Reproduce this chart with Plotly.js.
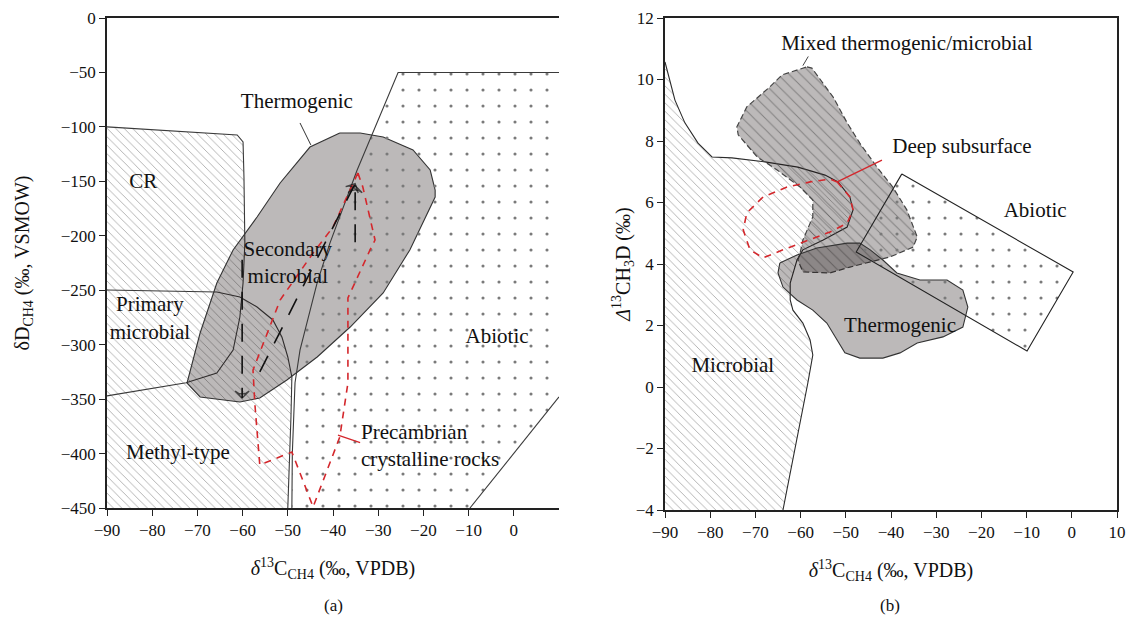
<!DOCTYPE html>
<html><head><meta charset="utf-8">
<script src="https://cdn.plot.ly/plotly-3.0.1.min.js"></script>
<style>html,body{margin:0;padding:0;background:#fff}</style>
</head><body><div id="chart" style="width:1129px;height:620px"></div>
<script>
// ---------- Panel (a): δD vs δ13C ----------
const aTicksX = [-90, -80, -70, -60, -50, -40, -30, -20, -10, 0];
const aTicksY = [0, -50, -100, -150, -200, -250, -300, -350, -400, -450];

// hatched microbial field (CR + primary microbial + methyl-type)
const aMicrobialX = [-90, -90, -61.2, -59.9, -59.7, -59.5, -59.9, -60.6, -56.8, -53.3, -51.3, -50, -49.1, -49.3, -49.7, -50];
const aMicrobialY = [-450, -100, -107.4, -113.9, -146, -206.6, -243.4, -256.2, -265.4, -277.3, -293, -311.3, -329.7, -366.4, -412.3, -450];
// CR boundary (continues down as methyl-type upper boundary)
const aCrLineX = [-90, -61.2, -59.9, -59.7, -59.5, -59.9, -60.6, -62.1, -65.7, -72.5, -90];
const aCrLineY = [-100, -107.4, -113.9, -146, -206.6, -243.4, -274.6, -305, -326, -335, -347];
// primary microbial boundary
const aPrimLineX = [-90, -65.7, -60.6, -56.8, -53.3, -51.3, -50, -49.1, -49.3, -49.7, -50];
const aPrimLineY = [-249.8, -251.6, -256.2, -265.4, -277.3, -293, -311.3, -329.7, -366.4, -412.3, -450];

// thermogenic field
const aThermoX = [-38.5, -34.0, -28.9, -22.3, -18.5, -17.4, -17.4, -20.8, -23.0, -28.9, -36.2, -43.5, -50.2, -56.2, -60.6, -69.4, -72.3, -69.4, -65.7, -62.1, -56.8, -51.7, -45.1, -38.5];
const aThermoY = [-105.6, -105.6, -109.3, -121.2, -139.6, -158, -164.4, -194.7, -213, -252.5, -283.8, -311.3, -332.4, -349, -352.6, -348, -335.2, -289.3, -243.4, -213, -182.8, -151.5, -118.5, -105.6];

// abiotic field
const aAbioticX = [-25.6, 10, 10, -9.7, -49.1, -49.0, -48.4, -47.3, -43.5, -40.7, -34.7, -25.6];
const aAbioticY = [-50, -50, -348, -450, -450, -400, -335, -305, -243, -207, -140, -50];
const aAbioticLineX = [-49.1, -49.0, -48.4, -47.3, -43.5, -40.7, -34.7, -25.6, 10, null, 10, -9.7];
const aAbioticLineY = [-450, -400, -335, -305, -243, -207, -140, -50, -50, null, -348, -450];

// Precambrian crystalline rocks (red dashed)
const aPrecX = [-34.5, -40, -44.4, -51.7, -57.7, -57.3, -56.2, -49.1, -44.4, -38.5, -36.7, -36.7, -31.8, -30.7, -33.4, -34.5];
const aPrecY = [-142.3, -192, -215.8, -259, -323.3, -353.6, -410.5, -398.6, -449, -384.8, -335.2, -257.1, -213, -203.9, -155.2, -142.3];

// secondary microbial arrows (black dashed)
const aArrow1X = [-60.1, -60.1], aArrow1Y = [-222, -349];
const aArrow2X = [-56.2, -35.1], aArrow2Y = [-325, -152];
const aArrow3X = [-35.1, -35.1], aArrow3Y = [-206, -154];

// leaders
const aThermoLeadX = [-47.3, -44.9], aThermoLeadY = [-96.4, -116.6];
const aPrecLeadX = [-38.9, -34.0], aPrecLeadY = [-383, -390];

// labels
const aLabelText = ['CR', 'Thermogenic', 'Secondary<br>microbial', 'Primary<br>microbial', 'Methyl-type', 'Abiotic'];
const aLabelX = [-82, -48, -50, -80.5, -74.3, -3.7];
const aLabelY = [-151, -78, -226, -277, -400, -294];
const aPrecLabelText = ['Precambrian<br>crystalline rocks'];
const aPrecLabelX = [-33.8];
const aPrecLabelY = [-394];

// ---------- Panel (b): Δ13CH3D vs δ13C ----------
const bTicksX = [-90, -80, -70, -60, -50, -40, -30, -20, -10, 0, 10];
const bTicksY = [-4, -2, 0, 2, 4, 6, 8, 10, 12];

const bMicroLineX = [-90, -87.8, -85.6, -82.7, -79.6, -75.2, -67.9, -60.6, -54.6, -51.7, -49.1, -48.4, -49.7, -55.0, -59.5, -60.8, -62.3, -62.3, -61.7, -59.5, -57.9, -57.3, -58.4, -60.6, -63.9];
const bMicroLineY = [10.57, 9.33, 8.59, 7.93, 7.48, 7.45, 7.32, 7.15, 6.89, 6.67, 6.18, 5.76, 5.20, 4.78, 4.46, 4.13, 3.38, 2.83, 2.50, 2.08, 1.53, 1.04, 0.13, -1.50, -4];
const bMicroFillX = [-90].concat(bMicroLineX);
const bMicroFillY = [-4].concat(bMicroLineY);

const bMixedX = [-58.6, -57.5, -52.8, -49.7, -46.9, -43.1, -39.6, -36.5, -34.2, -35.1, -40.2, -49.1, -53.5, -59.5, -60.6, -60.1, -59.5, -57.3, -57.3, -60.1, -65.2, -69.6, -73.8, -74.1, -71.9, -66.8, -64.1, -58.6];
const bMixedY = [10.41, 10.37, 9.43, 8.59, 7.93, 7.15, 6.50, 5.76, 4.88, 4.55, 4.23, 3.90, 3.71, 3.74, 4.13, 4.36, 4.78, 5.53, 6.08, 6.50, 7.06, 7.48, 8.20, 8.46, 9.11, 9.76, 10.15, 10.41];

const bThermoX = [-64.6, -60.8, -56.4, -49.7, -46.9, -44.6, -41.8, -38.7, -33.6, -27.6, -24.1, -23.0, -24.1, -28.5, -34.2, -38.0, -41.8, -46.9, -50.2, -51.9, -54.2, -57.3, -60.8, -63.9, -65.0, -64.6];
const bThermoY = [4.03, 4.29, 4.52, 4.68, 4.68, 4.46, 4.13, 3.71, 3.48, 3.48, 3.15, 2.60, 1.95, 1.63, 1.43, 1.11, 0.94, 0.94, 1.11, 1.53, 2.08, 2.50, 2.83, 3.25, 3.71, 4.03];

const bAbioticX = [-37.6, 0.3, -9.9, -47.7, -37.6];
const bAbioticY = [6.93, 3.74, 1.17, 4.39, 6.93];

const bDeepX = [-51.9, -49.1, -48.4, -49.7, -53.5, -59.5, -63.9, -68.3, -71.2, -72.7, -71.9, -68.3, -63.0, -57.9, -53.5, -51.9];
const bDeepY = [6.67, 6.18, 5.76, 5.33, 5.04, 4.72, 4.46, 4.20, 4.46, 5.11, 5.66, 6.18, 6.50, 6.67, 6.76, 6.67];

const bDeepLeadX = [-51.9, -42], bDeepLeadY = [6.67, 7.38];
const bMixedLeadX = [-59.5, -58.3], bMixedLeadY = [10.45, 10.75];

const bLabelText = ['Mixed thermogenic/microbial', 'Deep subsurface', 'Abiotic', 'Thermogenic', 'Microbial'];
const bLabelX = [-36.5, -24.3, -8.1, -38, -75];
const bLabelY = [11.12, 7.77, 5.69, 1.95, 0.65];

// panel captions
const panelCaptions = ['(a)', '(b)'];

// ---------- styling ----------
const FONT = 'Liberation Serif, Times New Roman, serif';
const GRAYFILL = 'rgba(25,15,15,0.29)';
const hatch = {shape: '\\', size: 6, solidity: 0.13, fgcolor: '#a0a0a0', bgcolor: 'rgba(0,0,0,0)'};
const plus = {shape: '.', size: 16, solidity: 0.03, fgcolor: '#7a7a7a', bgcolor: 'rgba(0,0,0,0)'};

function poly(x, y, xa, ya, opts) {
  return Object.assign({type: 'scatter', mode: 'lines', x: x, y: y, xaxis: xa, yaxis: ya,
    hoverinfo: 'skip', showlegend: false, fill: 'toself'}, opts);
}
function line(x, y, xa, ya, color, width, dash) {
  return {type: 'scatter', mode: 'lines', x: x, y: y, xaxis: xa, yaxis: ya, hoverinfo: 'skip',
    showlegend: false, line: {color: color, width: width, dash: dash || 'solid'}};
}
function arrow(x, y, color) {
  return {type: 'scatter', mode: 'lines+markers', x: x, y: y, xaxis: 'x', yaxis: 'y', hoverinfo: 'skip',
    showlegend: false, line: {color: color, width: 1.6, dash: '18px,14px'},
    marker: {symbol: 'arrow-wide-open', size: [0, 10], angleref: 'previous', color: color, line: {color: color, width: 1.3}}};
}
function labels(x, y, text, xa, ya, size, pos) {
  return {type: 'scatter', mode: 'text', x: x, y: y, text: text, xaxis: xa, yaxis: ya, hoverinfo: 'skip',
    showlegend: false, textposition: pos || 'middle center',
    textfont: {family: FONT, size: size, color: '#111'}};
}

const traces = [
  // panel a
  poly(aMicrobialX, aMicrobialY, 'x', 'y', {line: {width: 0}, fillcolor: 'rgba(0,0,0,0)', fillpattern: hatch}),
  line(aCrLineX, aCrLineY, 'x', 'y', '#3a3a3a', 1.1),
  line(aPrimLineX, aPrimLineY, 'x', 'y', '#3a3a3a', 1.1),
  poly(aThermoX, aThermoY, 'x', 'y', {line: {color: '#333', width: 1.1}, fillcolor: GRAYFILL}),
  poly(aAbioticX, aAbioticY, 'x', 'y', {line: {width: 0}, fillcolor: 'rgba(0,0,0,0)', fillpattern: plus}),
  line(aAbioticLineX, aAbioticLineY, 'x', 'y', '#3a3a3a', 1.1),
  line(aPrecX, aPrecY, 'x', 'y', '#d4272c', 1.6, '7px,6px'),
  arrow(aArrow1X, aArrow1Y, '#111'),
  arrow(aArrow2X, aArrow2Y, '#111'),
  arrow(aArrow3X, aArrow3Y, '#111'),
  line(aThermoLeadX, aThermoLeadY, 'x', 'y', '#333', 1),
  line(aPrecLeadX, aPrecLeadY, 'x', 'y', '#d4272c', 1.3),
  labels(aLabelX, aLabelY, aLabelText, 'x', 'y', 21),
  labels(aPrecLabelX, aPrecLabelY, aPrecLabelText, 'x', 'y', 21, 'middle right'),
  // panel b
  poly(bMicroFillX, bMicroFillY, 'x2', 'y2', {line: {width: 0}, fillcolor: 'rgba(0,0,0,0)', fillpattern: hatch}),
  line(bMicroLineX, bMicroLineY, 'x2', 'y2', '#2a2a2a', 1.1),
  poly(bMixedX, bMixedY, 'x2', 'y2', {line: {color: '#444', width: 1.2, dash: '6px,3px'}, fillcolor: GRAYFILL,
    fillpattern: {shape: '\\', size: 8, solidity: 0.12, fgcolor: '#5a5a5a', fgopacity: 0.6, bgcolor: GRAYFILL}}),
  poly(bThermoX, bThermoY, 'x2', 'y2', {line: {color: '#333', width: 1.1}, fillcolor: GRAYFILL}),
  poly(bAbioticX, bAbioticY, 'x2', 'y2', {line: {color: '#222', width: 1.1}, fillcolor: 'rgba(0,0,0,0)', fillpattern: plus}),
  line(bDeepX, bDeepY, 'x2', 'y2', '#d4272c', 1.6, '7px,6px'),
  line(bDeepLeadX, bDeepLeadY, 'x2', 'y2', '#d4272c', 1.3),
  line(bMixedLeadX, bMixedLeadY, 'x2', 'y2', '#444', 1),
  labels(bLabelX, bLabelY, bLabelText, 'x2', 'y2', 21)
];

const axBase = {showgrid: false, zeroline: false, showline: true, linecolor: '#222', linewidth: 1.5,
  ticks: 'outside', ticklen: 6, tickwidth: 1.3, tickcolor: '#222',
  tickfont: {family: FONT, size: 17, color: '#111'}, fixedrange: true};
const xTitle = '<i>δ</i><sup>13</sup>C<sub>CH4</sub> (‰, VPDB)';
const TTL = {family: FONT, size: 20, color: '#111'};

const layout = {
  width: 1129, height: 620, margin: {l: 0, r: 0, t: 0, b: 0},
  paper_bgcolor: '#fff', plot_bgcolor: '#fff', font: {family: FONT, size: 17, color: '#111'},
  xaxis: Object.assign({}, axBase, {domain: [107 / 1129, 559 / 1129], range: [-90, 10], tickvals: aTicksX,
    mirror: true, anchor: 'y', title: {text: xTitle, font: TTL, standoff: 22}}),
  yaxis: Object.assign({}, axBase, {domain: [1 - 508 / 620, 1 - 18 / 620], range: [-450, 0], tickvals: aTicksY,
    anchor: 'x', title: {text: 'δD<sub>CH4</sub> (‰, VSMOW)', font: TTL, standoff: 26}}),
  xaxis2: Object.assign({}, axBase, {domain: [665 / 1129, 1117 / 1129], range: [-90, 10], tickvals: bTicksX,
    mirror: true, anchor: 'y2', title: {text: xTitle, font: TTL, standoff: 22}}),
  yaxis2: Object.assign({}, axBase, {domain: [1 - 510 / 620, 1 - 18 / 620], range: [-4, 12], tickvals: bTicksY,
    mirror: true, anchor: 'x2', title: {text: '<i>Δ</i><sup>13</sup>CH<sub>3</sub>D (‰)', font: TTL, standoff: 0}}),
  annotations: [
    {xref: 'paper', yref: 'paper', x: 333 / 1129, y: 1 - 605 / 620, xanchor: 'center', yanchor: 'middle',
      text: panelCaptions[0], showarrow: false, font: {family: FONT, size: 17, color: '#111'}},
    {xref: 'paper', yref: 'paper', x: 890 / 1129, y: 1 - 605 / 620, xanchor: 'center', yanchor: 'middle',
      text: panelCaptions[1], showarrow: false, font: {family: FONT, size: 17, color: '#111'}}
  ]
};

Plotly.newPlot('chart', traces, layout, {displayModeBar: false});
</script></body></html>
